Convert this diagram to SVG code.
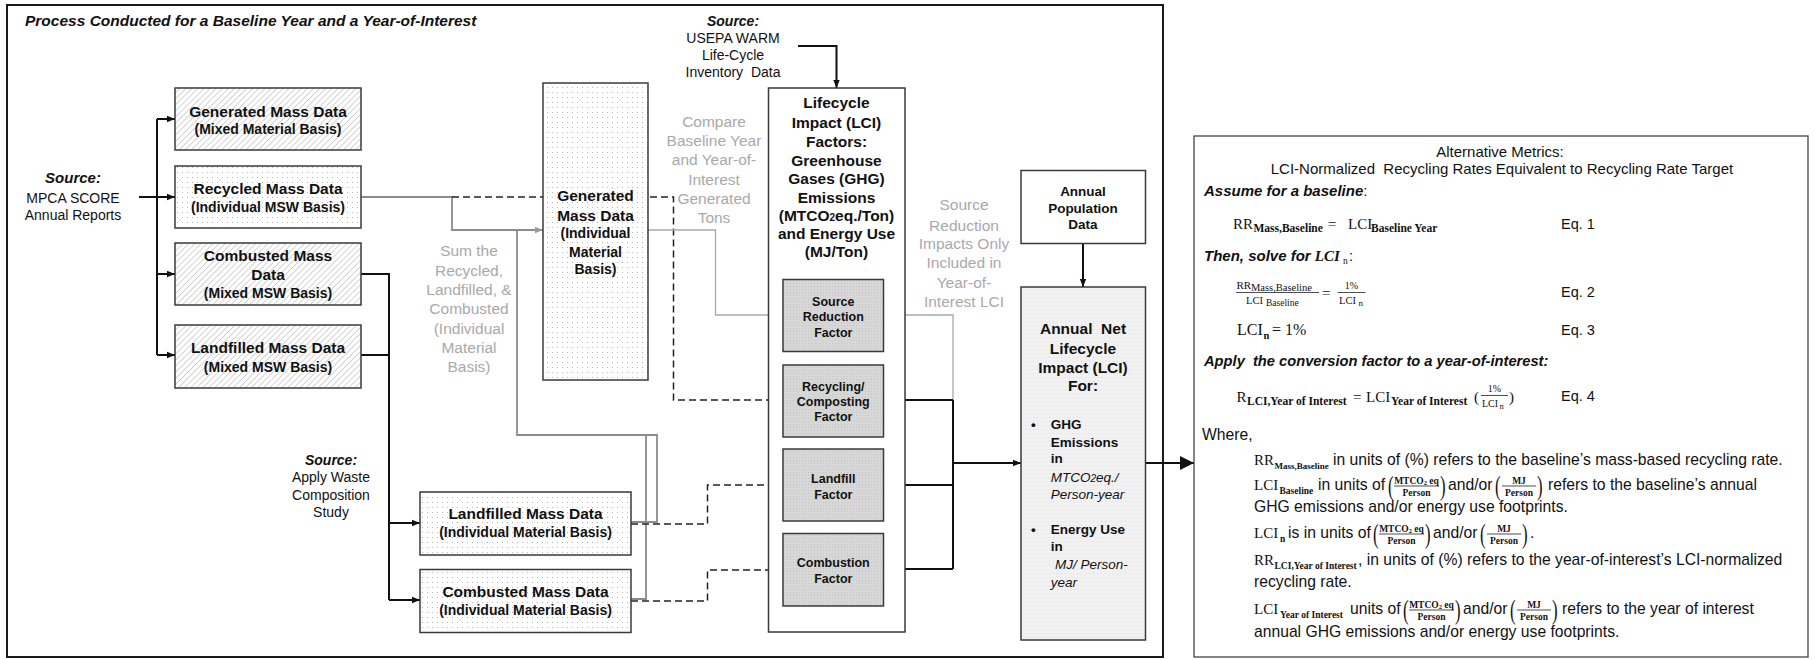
<svg xmlns="http://www.w3.org/2000/svg" width="1815" height="660" viewBox="0 0 1815 660">
<style>
text{font-family:"Liberation Sans",Arial,sans-serif;fill:#111}
.c{text-anchor:middle}
.hd{font-size:15.5px;font-weight:bold}
.sb{font-size:14px;font-weight:bold}
.bi{font-weight:bold;font-style:italic}
.rg{font-size:14px}
.gr{font-size:15.5px;fill:#a9a9a9}
.fc{font-size:12.5px;font-weight:bold}
.bl{font-size:13.5px;font-weight:bold}
.it{font-size:13.5px;font-style:italic}
.w{font-size:15.7px}
.m{font-family:"Liberation Serif","Times New Roman",serif}
.mb{font-family:"Liberation Serif","Times New Roman",serif;font-weight:bold}
.box{stroke:#3a3a3a;stroke-width:1.5}
.k{fill:none;stroke:#111;stroke-width:2}
.kd{fill:none;stroke:#222;stroke-width:1.5;stroke-dasharray:7 4}
.g{fill:none;stroke:#8c8c8c;stroke-width:1.8}
.gt{fill:none;stroke:#a9a9a9;stroke-width:1.3}
.bar{stroke:#222;stroke-width:0.8}
</style>
<defs>
<pattern id="hatch" width="4.3" height="4.3" patternUnits="userSpaceOnUse" patternTransform="rotate(45)">
<rect width="4.3" height="4.3" fill="#fff"/><line x1="0" y1="0" x2="0" y2="4.3" stroke="#b0b0b0" stroke-width="1.1"/>
</pattern>
<pattern id="dots" width="5" height="5" patternUnits="userSpaceOnUse">
<rect width="5" height="5" fill="#fff"/><rect x="2" y="2" width="1" height="1" fill="#b8b8b8"/>
</pattern>
<pattern id="fdots" width="3" height="3" patternUnits="userSpaceOnUse">
<rect width="3" height="3" fill="#d7d7d7"/><rect x="1" y="1" width="1" height="1" fill="#c6c6c6"/>
</pattern>
<pattern id="ndots" width="4" height="4" patternUnits="userSpaceOnUse">
<rect width="4" height="4" fill="#f1f1f1"/><rect x="1" y="1" width="1" height="1" fill="#dedede"/>
</pattern>
<marker id="ak" viewBox="0 0 10 10" refX="10" refY="5" markerWidth="8" markerHeight="8" markerUnits="userSpaceOnUse" orient="auto"><path d="M0,1 L10,5 L0,9 z" fill="#111"/></marker>
<marker id="ag" viewBox="0 0 10 10" refX="10" refY="5" markerWidth="8" markerHeight="8" markerUnits="userSpaceOnUse" orient="auto"><path d="M0,1 L10,5 L0,9 z" fill="#9a9a9a"/></marker>
<marker id="abig" viewBox="0 0 10 10" refX="10" refY="5" markerWidth="15" markerHeight="14" markerUnits="userSpaceOnUse" orient="auto"><path d="M0,0 L10,5 L0,10 z" fill="#111"/></marker>
</defs>

<rect x="7" y="5" width="1156" height="652" fill="#fff" stroke="#1a1a1a" stroke-width="2"/>
<text class="bi" x="25" y="26" font-size="15.5">Process Conducted for a Baseline Year and a Year-of-Interest</text>

<g id="connectors">
<path class="k" d="M139,197 H157" stroke-width="3"/>
<path class="k" d="M157,119 V355"/>
<path class="k" d="M157,119 H175" marker-end="url(#ak)"/>
<path class="k" d="M157,197 H175" marker-end="url(#ak)"/>
<path class="k" d="M157,274 H175" marker-end="url(#ak)"/>
<path class="k" d="M157,355 H175" marker-end="url(#ak)"/>
<path class="k" d="M361,274 H389 V600"/>
<path class="k" d="M361,355 H389"/>
<path class="k" d="M389,523 H420" marker-end="url(#ak)"/>
<path class="k" d="M389,600 H420" marker-end="url(#ak)"/>
<path class="g" d="M361,197 H452 V230 H543" stroke-width="2" marker-end="url(#ag)"/>
<path class="g" d="M631,522 H657 V435 H517 V230"/>
<path class="g" d="M631,599 H646 V435"/>
<path class="kd" d="M452,197 H673.5 V400 H783" marker-end="url(#ak)"/>
<path class="kd" d="M631,524 H707.5 V485 H783" marker-end="url(#ak)"/>
<path class="kd" d="M631,601 H707.5 V570 H783" marker-end="url(#ak)"/>
<path class="gt" d="M648,230 H715.5 V315 H783" marker-end="url(#ag)"/>
<path class="k" d="M798,46 H836.5 V88" stroke-width="2.5" marker-end="url(#ak)"/>
<path class="gt" d="M883.5,315 H953 V400" stroke="#b3b3b3" stroke-width="1.2"/>
<path class="k" d="M883.5,400 H953 M883.5,485 H953 M883.5,569 H953 M953,400 V569" stroke-width="1.5"/>
<path class="k" d="M953,463 H1021" marker-end="url(#ak)"/>
<path class="k" d="M1083,243.5 V287" stroke-width="1.3" marker-end="url(#ak)"/>
<path class="k" d="M1145.5,463 H1194" stroke-width="4" marker-end="url(#abig)"/>
</g>

<g id="src-mpca">
<text class="c bi" x="73" y="183" font-size="15">Source:</text>
<text class="c rg" x="73" y="203">MPCA SCORE</text>
<text class="c rg" x="73" y="220">Annual Reports</text>
</g>

<g id="gen-mixed">
<rect class="box" x="175" y="88" width="186" height="62" fill="url(#hatch)"/>
<text class="c hd" x="268" y="116.5">Generated Mass Data</text>
<text class="c sb" x="268" y="134">(Mixed Material Basis)</text>
</g>

<g id="rec-ind">
<rect class="box" x="175" y="166" width="186" height="62" fill="url(#dots)"/>
<text class="c hd" x="268" y="194">Recycled Mass Data</text>
<text class="c sb" x="268" y="212">(Individual MSW Basis)</text>
</g>

<g id="comb-mixed">
<rect class="box" x="175" y="243" width="186" height="62" fill="url(#hatch)"/>
<text class="c hd" x="268" y="260.5">Combusted Mass</text>
<text class="c hd" x="268" y="280">Data</text>
<text class="c sb" x="268" y="298">(Mixed MSW Basis)</text>
</g>

<g id="land-mixed">
<rect class="box" x="175" y="325" width="186" height="63" fill="url(#hatch)"/>
<text class="c hd" x="268" y="353">Landfilled Mass Data</text>
<text class="c sb" x="268" y="371.5">(Mixed MSW Basis)</text>
</g>

<g id="src-waste">
<text class="c bi" x="331" y="465" font-size="14">Source:</text>
<text class="c rg" x="331" y="482">Apply Waste</text>
<text class="c rg" x="331" y="499.5">Composition</text>
<text class="c rg" x="331" y="517">Study</text>
</g>

<g id="land-ind">
<rect class="box" x="420" y="492" width="211" height="63" fill="url(#dots)"/>
<text class="c hd" x="525.5" y="519">Landfilled Mass Data</text>
<text class="c sb" x="525.5" y="537">(Individual Material Basis)</text>
</g>

<g id="comb-ind">
<rect class="box" x="420" y="569.5" width="211" height="63" fill="url(#dots)"/>
<text class="c hd" x="525.5" y="597">Combusted Mass Data</text>
<text class="c sb" x="525.5" y="615">(Individual Material Basis)</text>
</g>

<g id="sum-label">
<text class="c gr" x="469" y="256">Sum the</text>
<text class="c gr" x="469" y="275.5">Recycled,</text>
<text class="c gr" x="469" y="295">Landfilled, &amp;</text>
<text class="c gr" x="469" y="314">Combusted</text>
<text class="c gr" x="469" y="333.5">(Individual</text>
<text class="c gr" x="469" y="352.5">Material</text>
<text class="c gr" x="469" y="371.5">Basis)</text>
</g>

<g id="gen-ind">
<rect class="box" x="543" y="83" width="105" height="297" fill="url(#dots)"/>
<text class="c hd" x="595.5" y="201">Generated</text>
<text class="c hd" x="595.5" y="220.5">Mass Data</text>
<text class="c sb" x="595.5" y="238">(Individual</text>
<text class="c sb" x="595.5" y="256.5">Material</text>
<text class="c sb" x="595.5" y="274">Basis)</text>
</g>

<g id="compare-label">
<text class="c gr" x="714" y="126.7">Compare</text>
<text class="c gr" x="714" y="146">Baseline Year</text>
<text class="c gr" x="714" y="165.3">and Year-of-</text>
<text class="c gr" x="714" y="185">Interest</text>
<text class="c gr" x="714" y="204">Generated</text>
<text class="c gr" x="714" y="222.7">Tons</text>
</g>

<g id="src-usepa">
<text class="c bi" x="733" y="25.7" font-size="14">Source:</text>
<text class="c rg" x="733" y="43">USEPA WARM</text>
<text class="c rg" x="733" y="60.3">Life-Cycle</text>
<text class="c rg" x="733" y="77" xml:space="preserve">Inventory  Data</text>
</g>

<g id="lci-factors">
<rect class="box" x="768.5" y="88" width="136.5" height="544" fill="#fff"/>
<text class="c hd" x="836.5" y="108.3">Lifecycle</text>
<text class="c hd" x="836.5" y="128">Impact (LCI)</text>
<text class="c hd" x="836.5" y="146.7">Factors:</text>
<text class="c hd" x="836.5" y="165.7">Greenhouse</text>
<text class="c hd" x="836.5" y="184">Gases (GHG)</text>
<text class="c hd" x="836.5" y="202.7">Emissions</text>
<text class="c hd" x="836.5" y="221.3" font-size="14.5">(MTCO<tspan font-size="10">2</tspan>eq./Ton)</text>
<text class="c hd" x="836.5" y="239.3" font-size="15">and Energy Use</text>
<text class="c hd" x="836.5" y="257">(MJ/Ton)</text>
</g>

<g id="f-source">
<rect class="box" x="783" y="279.5" width="100.5" height="72" fill="url(#fdots)"/>
<text class="c fc" x="833.3" y="305.7">Source</text>
<text class="c fc" x="833.3" y="321.3">Reduction</text>
<text class="c fc" x="833.3" y="337">Factor</text>
</g>
<g id="f-recycle">
<rect class="box" x="783" y="365" width="100.5" height="72" fill="url(#fdots)"/>
<text class="c fc" x="833.3" y="390.7">Recycling/</text>
<text class="c fc" x="833.3" y="405.5">Composting</text>
<text class="c fc" x="833.3" y="421.3">Factor</text>
</g>
<g id="f-landfill">
<rect class="box" x="783" y="449" width="100.5" height="72" fill="url(#fdots)"/>
<text class="c fc" x="833.3" y="483.3">Landfill</text>
<text class="c fc" x="833.3" y="498.7">Factor</text>
</g>
<g id="f-combust">
<rect class="box" x="783" y="533.5" width="100.5" height="72.5" fill="url(#fdots)"/>
<text class="c fc" x="833.3" y="567">Combustion</text>
<text class="c fc" x="833.3" y="582.7">Factor</text>
</g>

<g id="srcred-label">
<text class="c gr" x="964" y="210">Source</text>
<text class="c gr" x="964" y="230.5">Reduction</text>
<text class="c gr" x="964" y="249">Impacts Only</text>
<text class="c gr" x="964" y="268">Included in</text>
<text class="c gr" x="964" y="288">Year-of-</text>
<text class="c gr" x="964" y="306.7">Interest LCI</text>
</g>

<g id="population">
<rect class="box" x="1021" y="170.5" width="124.5" height="73" fill="#fff"/>
<text class="c bl" x="1083" y="195.7">Annual</text>
<text class="c bl" x="1083" y="212.5">Population</text>
<text class="c bl" x="1083" y="229.4">Data</text>
</g>

<g id="annual-net">
<rect class="box" x="1021" y="287" width="124.5" height="353" fill="url(#ndots)"/>
<text class="c hd" x="1083" y="333.8" xml:space="preserve">Annual  Net</text>
<text class="c hd" x="1083" y="354">Lifecycle</text>
<text class="c hd" x="1083" y="372.5">Impact (LCI)</text>
<text class="c hd" x="1083" y="391.4">For:</text>
<text class="bl" x="1031" y="428.5">•</text>
<text class="bl" x="1050.7" y="428.5">GHG</text>
<text class="bl" x="1050.7" y="446.5">Emissions</text>
<text class="bl" x="1050.7" y="463">in</text>
<text class="it" x="1050.7" y="481.5">MTCO<tspan font-size="10">2</tspan>eq./</text>
<text class="it" x="1050.7" y="498.5">Person-year</text>
<text class="bl" x="1031" y="533.5">•</text>
<text class="bl" x="1050.7" y="533.5">Energy Use</text>
<text class="bl" x="1050.7" y="550.5">in</text>
<text class="it" x="1055" y="569">MJ/ Person-</text>
<text class="it" x="1050.7" y="586.5">year</text>
</g>

<g id="alt-metrics">
<rect x="1194" y="136" width="614" height="521" fill="#fff" stroke="#444" stroke-width="1.3"/>
<text class="c" x="1500" y="156.7" font-size="15">Alternative Metrics:</text>
<text class="c" x="1502" y="174" font-size="15" xml:space="preserve">LCI-Normalized  Recycling Rates Equivalent to Recycling Rate Target</text>

<text x="1204" y="196" font-size="15"><tspan class="bi">Assume for a baseline</tspan>:</text>

<text class="m" x="1233" y="228.5" font-size="15">RR</text>
<text class="mb" x="1253.5" y="232" font-size="11.5">Mass,Baseline</text>
<text class="m" x="1328" y="228.5" font-size="15">=</text>
<text class="m" x="1348" y="228.5" font-size="15">LCI</text>
<text class="mb" x="1371" y="232" font-size="11.5">Baseline Year</text>
<text x="1561" y="229" font-size="14.5">Eq. 1</text>

<text x="1204" y="261" font-size="15"><tspan class="bi">Then, solve for </tspan><tspan class="mb" font-style="italic">LCI</tspan></text>
<text class="m" x="1343" y="264" font-size="9.5">n</text>
<text x="1349" y="261" font-size="15">:</text>

<text class="m" x="1236.5" y="288.7" font-size="11">RR</text>
<text class="m" x="1251" y="290.5" font-size="10.5">Mass,Baseline</text>
<line class="bar" x1="1236" y1="292.5" x2="1319" y2="292.5"/>
<text class="m" x="1246" y="304" font-size="10.5">LCI</text>
<text class="m" x="1266" y="306" font-size="9.5">Baseline</text>
<text class="m" x="1322" y="297.5" font-size="15">=</text>
<text class="m c" x="1351.5" y="288.5" font-size="10">1%</text>
<line class="bar" x1="1337.5" y1="292.5" x2="1365.5" y2="292.5"/>
<text class="m" x="1339" y="304" font-size="10.5">LCI</text>
<text class="m" x="1358.5" y="306" font-size="9">n</text>
<text x="1561" y="296.7" font-size="14.5">Eq. 2</text>

<text class="m" x="1237" y="335" font-size="16">LCI</text>
<text class="mb" x="1263.5" y="338.5" font-size="10.5">n</text>
<text class="m" x="1272" y="335" font-size="16">= 1%</text>
<text x="1561" y="335" font-size="14.5">Eq. 3</text>

<text class="bi" x="1204" y="365.7" font-size="14.7" xml:space="preserve">Apply  the conversion factor to a year-of-interest:</text>

<text class="m" x="1236.5" y="401.5" font-size="15">R</text>
<text class="mb" x="1247" y="404.5" font-size="11.5">LCI,Year of Interest</text>
<text class="m" x="1353" y="401.5" font-size="15">=</text>
<text class="m" x="1366" y="401.5" font-size="15">LCI</text>
<text class="mb" x="1391" y="404.5" font-size="11.5">Year of Interest</text>
<text class="m" x="1474" y="401.5" font-size="15">(</text>
<text class="m c" x="1494.5" y="392" font-size="10">1%</text>
<line class="bar" x1="1481" y1="395.5" x2="1508" y2="395.5"/>
<text class="m" x="1482" y="406.5" font-size="10">LCI</text>
<text class="m" x="1499.5" y="408.5" font-size="8.5">n</text>
<text class="m" x="1509" y="401.5" font-size="15">)</text>
<text x="1561" y="401" font-size="14.5">Eq. 4</text>

<text class="w" x="1202" y="440">Where,</text>

<text class="m" x="1254" y="465" font-size="15">RR</text>
<text class="mb" x="1274.5" y="468.5" font-size="9">Mass,Baseline</text>
<text class="w" x="1333" y="465">in units of (%) refers to the baseline’s mass-based recycling rate.</text>

<text class="m" x="1254" y="490" font-size="15">LCI</text>
<text class="mb" x="1279.5" y="493.5" font-size="9.5">Baseline</text>
<text class="w" x="1318" y="490">in units of</text>
<text class="m" font-size="28" transform="translate(1388,495) scale(0.6,1)">(</text>
<line class="bar" x1="1394" y1="486" x2="1439" y2="486"/>
<text class="mb c" x="1416.5" y="483.5" font-size="9.5">MTCO<tspan font-size="6.5" dy="1.5">2</tspan><tspan dy="-1.5"> eq</tspan></text>
<text class="mb c" x="1416.5" y="496" font-size="9.5">Person</text>
<text class="m" font-size="28" transform="translate(1440,495) scale(0.6,1)">)</text>
<text class="w" x="1448" y="490">and/or</text>
<text class="m" font-size="28" transform="translate(1495,495) scale(0.6,1)">(</text>
<line class="bar" x1="1502" y1="486" x2="1536" y2="486"/>
<text class="mb c" x="1519" y="483.5" font-size="9.5">MJ</text>
<text class="mb c" x="1519" y="496" font-size="9.5">Person</text>
<text class="m" font-size="28" transform="translate(1537,495) scale(0.6,1)">)</text>
<text class="w" x="1548" y="490">refers to the baseline’s annual</text>

<text class="w" x="1254" y="512">GHG emissions and/or energy use footprints.</text>

<text class="m" x="1254" y="538" font-size="15">LCI</text>
<text class="mb" x="1280" y="541.5" font-size="9.5">n</text>
<text class="w" x="1288" y="538">is in units of</text>
<text class="m" font-size="28" transform="translate(1373,543) scale(0.6,1)">(</text>
<line class="bar" x1="1379" y1="534" x2="1424" y2="534"/>
<text class="mb c" x="1401.5" y="531.5" font-size="9.5">MTCO<tspan font-size="6.5" dy="1.5">2</tspan><tspan dy="-1.5"> eq</tspan></text>
<text class="mb c" x="1401.5" y="544" font-size="9.5">Person</text>
<text class="m" font-size="28" transform="translate(1425,543) scale(0.6,1)">)</text>
<text class="w" x="1433" y="538">and/or</text>
<text class="m" font-size="28" transform="translate(1480,543) scale(0.6,1)">(</text>
<line class="bar" x1="1487" y1="534" x2="1521" y2="534"/>
<text class="mb c" x="1504" y="531.5" font-size="9.5">MJ</text>
<text class="mb c" x="1504" y="544" font-size="9.5">Person</text>
<text class="m" font-size="28" transform="translate(1522,543) scale(0.6,1)">)</text>
<text class="w" x="1530" y="538">.</text>

<text class="m" x="1254" y="565" font-size="15">RR</text>
<text class="mb" x="1274.5" y="568.5" font-size="9.5">LCI,Year of Interest</text>
<text class="w" x="1358" y="565">, in units of (%) refers to the year-of-interest’s LCI-normalized</text>
<text class="w" x="1254" y="587">recycling rate.</text>

<text class="m" x="1254" y="614" font-size="15">LCI</text>
<text class="mb" x="1280" y="617.5" font-size="9.5">Year of Interest</text>
<text class="w" x="1350" y="614">units of</text>
<text class="m" font-size="28" transform="translate(1403,619) scale(0.6,1)">(</text>
<line class="bar" x1="1409" y1="610" x2="1454" y2="610"/>
<text class="mb c" x="1431.5" y="607.5" font-size="9.5">MTCO<tspan font-size="6.5" dy="1.5">2</tspan><tspan dy="-1.5"> eq</tspan></text>
<text class="mb c" x="1431.5" y="620" font-size="9.5">Person</text>
<text class="m" font-size="28" transform="translate(1455,619) scale(0.6,1)">)</text>
<text class="w" x="1463" y="614">and/or</text>
<text class="m" font-size="28" transform="translate(1510,619) scale(0.6,1)">(</text>
<line class="bar" x1="1517" y1="610" x2="1551" y2="610"/>
<text class="mb c" x="1534" y="607.5" font-size="9.5">MJ</text>
<text class="mb c" x="1534" y="620" font-size="9.5">Person</text>
<text class="m" font-size="28" transform="translate(1552,619) scale(0.6,1)">)</text>
<text class="w" x="1562" y="614">refers to the year of interest</text>
<text class="w" x="1254" y="637">annual GHG emissions and/or energy use footprints.</text>
</g>
</svg>
